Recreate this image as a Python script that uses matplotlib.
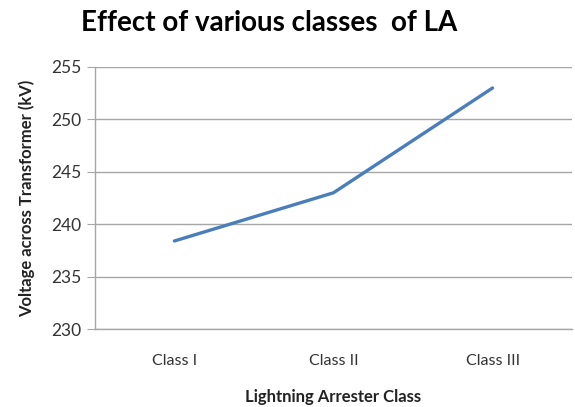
import matplotlib
matplotlib.use("Agg")
import matplotlib.pyplot as plt

classes = ["Class I", "Class II", "Class III"]
voltage = [238.4, 243.0, 253.0]
y_ticks = [230, 235, 240, 245, 250, 255]

plt.rcParams['font.family'] = ['Lato', 'DejaVu Sans']

fig = plt.figure(figsize=(5.75, 4.07), dpi=100)
ax = fig.add_axes([0.165, 0.1916, 0.83, 0.6438])

x = range(len(classes))
ax.plot(x, voltage, color='#4a7ebb', linewidth=2.4, solid_capstyle='round')

ax.set_xlim(-0.5, len(classes) - 0.5)
ax.set_ylim(230, 255)
ax.set_yticks(y_ticks)
ax.set_xticks(list(x))
ax.set_xticklabels(classes)
ax.yaxis.grid(True, color='#a6a6a6', linewidth=1.0)
ax.set_axisbelow(True)

for side in ['top', 'right']:
    ax.spines[side].set_visible(False)
for side in ['left', 'bottom']:
    ax.spines[side].set_color('#a6a6a6')
    ax.spines[side].set_linewidth(1.0)

ax.tick_params(axis='y', length=6, color='#a6a6a6', labelsize=12.5, labelcolor='#333333', pad=4)
ax.tick_params(axis='x', length=0, labelsize=11.5, labelcolor='#333333', pad=18)

# x label placed by hand so it stays inside the canvas
fig.text(0.58, 0.025, "Lightning Arrester Class", ha='center', va='center',
         fontsize=12, fontweight='bold', color='#222222')
ax.set_ylabel("Voltage across Transformer (kV)", fontsize=12, fontweight='bold', color='#222222')
ax.yaxis.set_label_coords(-0.125, 0.5)
fig.suptitle("Effect of various classes  of LA", fontsize=20, fontweight='bold', x=0.468, y=0.975)

fig.savefig("out.png", dpi=100)
